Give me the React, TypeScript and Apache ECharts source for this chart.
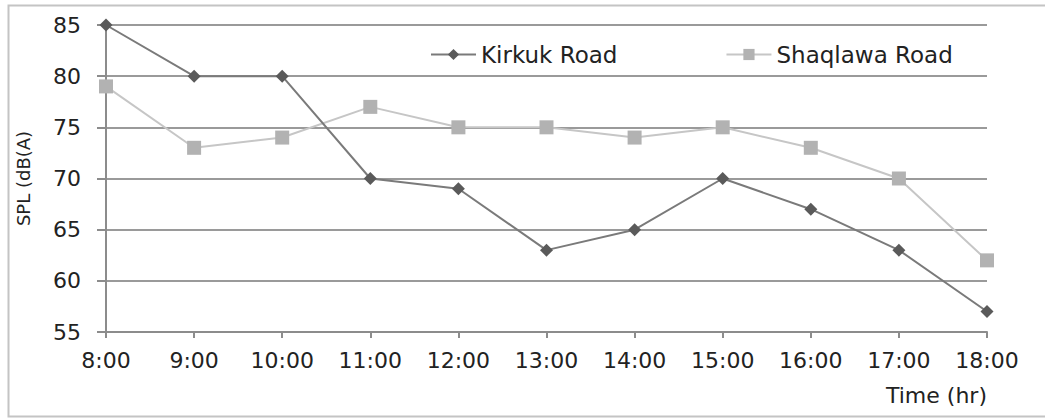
import React, { useEffect, useRef } from "react";
import * as echarts from "echarts";

const categories = ["8:00", "9:00", "10:00", "11:00", "12:00", "13:00", "14:00", "15:00", "16:00", "17:00", "18:00"];
const kirkuk = [85, 80, 80, 70, 69, 63, 65, 70, 67, 63, 57];
const shaqlawa = [79, 73, 74, 77, 75, 75, 74, 75, 73, 70, 62];
const seriesNames = ["Kirkuk Road", "Shaqlawa Road"];

export default function App() {
  const ref = useRef<HTMLDivElement>(null);
  useEffect(() => {
    const chart = echarts.init(ref.current!, null, { renderer: "svg" });
    const font = "DejaVu Sans, sans-serif";
    chart.setOption({
      animation: false,
      backgroundColor: "#ffffff",
      graphic: [
        {
          type: "rect",
          shape: { x: 8.5, y: 5.5, width: 1045, height: 411 },
          style: { fill: "none", stroke: "#c4c4c4", lineWidth: 2 },
          silent: true,
        },
      ],
      grid: { left: 106, right: 58, top: 25, bottom: 87, containLabel: false },
      legend: {
        left: 425,
        top: 38,
        itemWidth: 45,
        itemHeight: 14,
        itemGap: 108,
        textStyle: { fontFamily: font, fontSize: 23, color: "#222" },
        data: seriesNames,
      },
      xAxis: {
        type: "category",
        data: categories,
        boundaryGap: false,
        name: "Time (hr)",
        nameLocation: "end",
        nameGap: 0,
        nameTextStyle: {
          fontFamily: font,
          fontSize: 22,
          color: "#222",
          align: "right",
          verticalAlign: "top",
          padding: [52, 0, 0, 0],
        },
        axisLine: { lineStyle: { color: "#8c8c8c", width: 2 } },
        axisTick: { alignWithLabel: true, length: 6, lineStyle: { color: "#8c8c8c", width: 2 } },
        axisLabel: { fontFamily: font, fontSize: 22, color: "#222", margin: 17 },
        splitLine: { show: false },
      },
      yAxis: {
        type: "value",
        min: 55,
        max: 85,
        interval: 5,
        name: "SPL (dB(A)",
        nameLocation: "middle",
        nameRotate: 90,
        nameGap: 74,
        nameTextStyle: { fontFamily: font, fontSize: 18, color: "#222" },
        axisLine: { show: true, lineStyle: { color: "#8c8c8c", width: 2 } },
        axisTick: { show: true, inside: false, length: 9, lineStyle: { color: "#8c8c8c", width: 2 } },
        axisLabel: { fontFamily: font, fontSize: 22, color: "#222", margin: 25 },
        splitLine: { show: true, lineStyle: { color: "#9a9a9a", width: 2 } },
      },
      series: [
        {
          name: seriesNames[0],
          type: "line",
          data: kirkuk,
          symbol: "diamond",
          symbolSize: 13,
          itemStyle: { color: "#5a5a5a" },
          lineStyle: { color: "#7a7a7a", width: 2 },
          z: 3,
        },
        {
          name: seriesNames[1],
          type: "line",
          data: shaqlawa,
          symbol: "rect",
          symbolSize: 14,
          itemStyle: { color: "#b2b2b2" },
          lineStyle: { color: "#c6c6c6", width: 2 },
          z: 2,
        },
      ],
    });
    return () => chart.dispose();
  }, []);
  return (
    <div
      ref={ref}
      style={{ position: "fixed", left: 0, top: 0, width: 1045, height: 419 }}
    />
  );
}
